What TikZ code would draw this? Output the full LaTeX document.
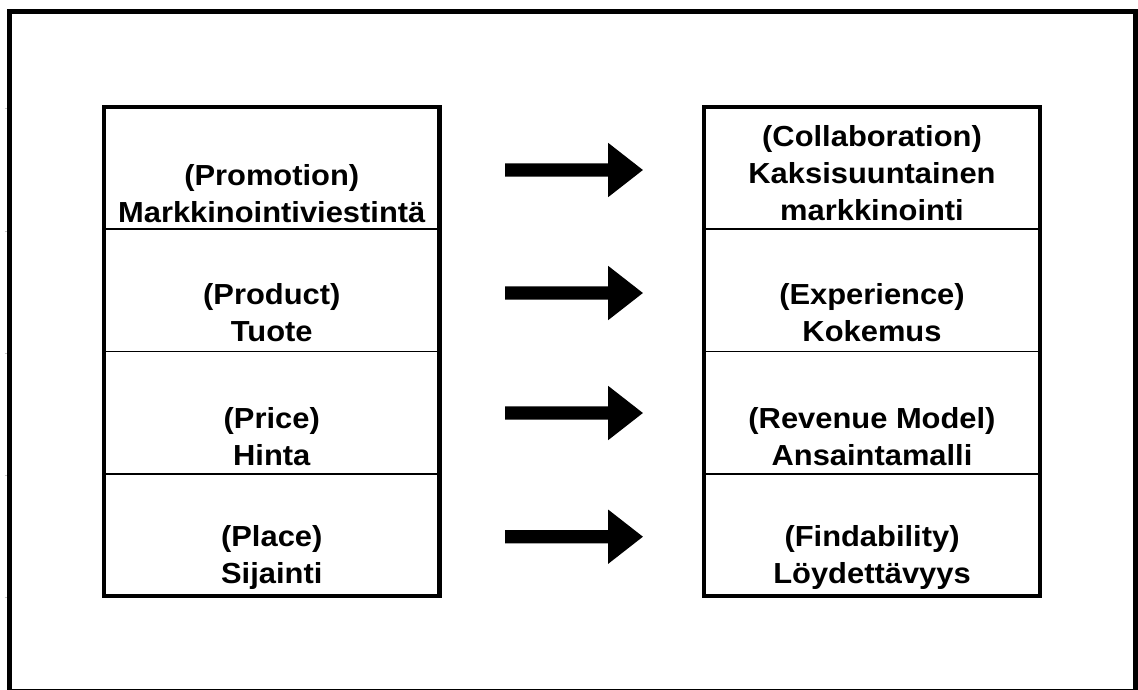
\documentclass[tikz,border=0pt]{standalone}
\usepackage{fontspec}
\setmainfont{Liberation Sans}[FakeStretch=1.065]
\usetikzlibrary{shapes.arrows}
\begin{document}
\begin{tikzpicture}[x=1pt,y=-1pt,
  frame/.style={line width=4.7pt},
  outline/.style={line width=4.2pt},
  divider/.style={line width=1.8pt},
  tick/.style={gray!45,line width=1pt},
  cell/.style={anchor=base,inner sep=0pt,align=center,
    font=\fontsize{29}{37}\selectfont\bfseries},
  bigarrow/.style={single arrow,fill=black,draw=none,inner sep=0pt,
    text height=13pt,text depth=0pt,minimum width=0pt,
    minimum height=137.7pt,single arrow head extend=20.5pt,
    single arrow tip angle=76,anchor=tail}
]
\useasboundingbox (0,0) rectangle (1138,689);

% outer frame and small marks beside it
\draw[frame] (9.5,11.5) rectangle (1135.5,691);
\foreach \t in {108,231,353,475,597} \draw[tick] (4.5,\t) -- (7,\t);

% left table: the four P's (text placed by the baseline of its last line)
\draw[outline] (104,107) rectangle (439.5,596);
\foreach \r in {229.3,351.5,473.8} \draw[divider] (104,\r) -- (439.5,\r);
\node[cell] (promo) at (271.75,222) {(Promotion)\\Markkinointiviestintä};
\node[cell] (product) at (271.75,341) {(Product)\\Tuote};
\node[cell] (price) at (271.75,465) {(Price)\\Hinta};
\node[cell] (place) at (271.75,583) {(Place)\\Sijainti};

% right table: the four new terms
\draw[outline] (704,107) rectangle (1040,596);
\foreach \r in {229.3,351.5,473.8} \draw[divider] (704,\r) -- (1040,\r);
\node[cell] (collab) at (872,220) {(Collaboration)\\Kaksisuuntainen\\markkinointi};
\node[cell] (exper) at (872,341) {(Experience)\\Kokemus};
\node[cell] (revenue) at (872,465) {(Revenue Model)\\Ansaintamalli};
\node[cell] (finda) at (872,583) {(Findability)\\Löydettävyys};

% block arrows between the tables
\node[bigarrow] (arr1) at (505,170) {};
\node[bigarrow] (arr2) at (505,293) {};
\node[bigarrow] (arr3) at (505,413) {};
\node[bigarrow] (arr4) at (505,536.7) {};
\end{tikzpicture}
\end{document}
